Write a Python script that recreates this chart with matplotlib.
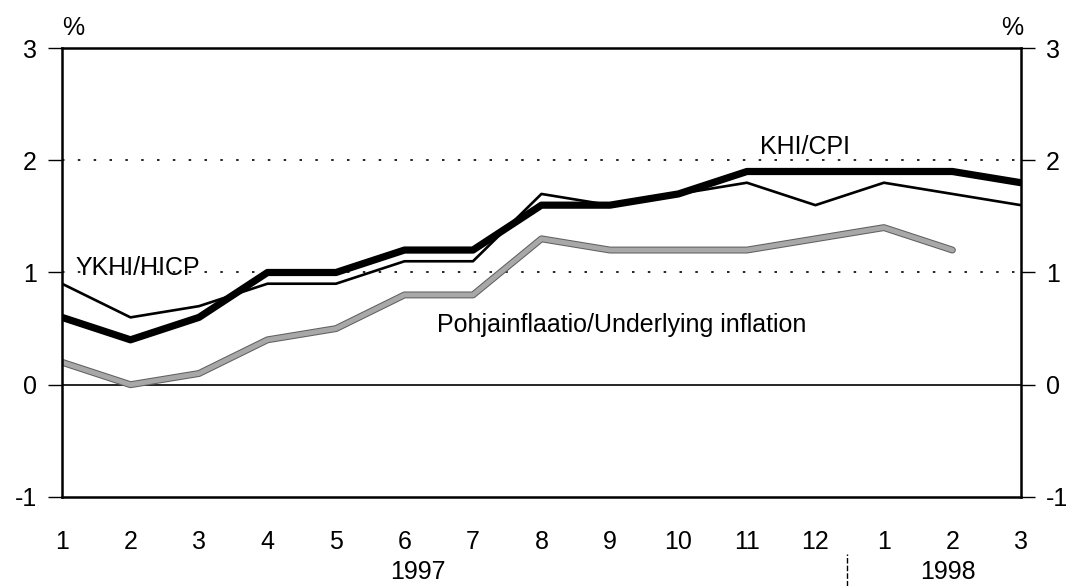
import numpy as np
import matplotlib.pyplot as plt
import matplotlib.patheffects as pe

plt.rcParams['font.family'] = ['Liberation Sans', 'DejaVu Sans']

months = ["1", "2", "3", "4", "5", "6", "7", "8", "9", "10", "11", "12", "1", "2", "3"]
cpi = [0.6, 0.4, 0.6, 1.0, 1.0, 1.2, 1.2, 1.6, 1.6, 1.7, 1.9, 1.9, 1.9, 1.9, 1.8]
hicp = [0.9, 0.6, 0.7, 0.9, 0.9, 1.1, 1.1, 1.7, 1.6, 1.7, 1.8, 1.6, 1.8, 1.7, 1.6]
underlying = [0.2, 0.0, 0.1, 0.4, 0.5, 0.8, 0.8, 1.3, 1.2, 1.2, 1.2, 1.3, 1.4, 1.2]

fs = 18
x = np.arange(len(months))
fig = plt.figure(figsize=(10.69, 5.86), dpi=100)
ax = fig.add_axes([0.058, 0.152, 0.897, 0.766])

# grid lines
for g in [1, 2]:
    ax.axhline(g, color='black', lw=1.2, ls=(0, (1.5, 8)), zorder=1)
ax.axhline(0, color='black', lw=1.2, zorder=1)

ax.plot(np.arange(len(underlying)), underlying, color='#a8a8a8', lw=3.5, zorder=2,
        solid_capstyle='round',
        path_effects=[pe.Stroke(linewidth=5, foreground='#606060'), pe.Normal()])
ax.plot(x, hicp, color='black', lw=1.9, zorder=3)
ax.plot(x, cpi, color='black', lw=5.2, zorder=4, solid_capstyle='round')

ax.set_xlim(0, len(months) - 1)
ax.set_ylim(-1, 3)
ax.set_yticks([-1, 0, 1, 2, 3])
ax.set_yticklabels(["-1", "0", "1", "2", "3"])
ax.set_xticks(x)
ax.set_xticklabels(months)
ax.tick_params(axis='x', length=0, pad=24, labelsize=fs)
ax.tick_params(axis='y', direction='out', length=10, width=1, labelsize=fs,
               left=True, right=True, labelleft=True, labelright=True, pad=8)
for s in ax.spines.values():
    s.set_linewidth(1.8)

# labels on lines
ax.text(10.85, 2.115, "KHI/CPI", fontsize=fs, ha='center', va='center')
ax.text(0.19, 1.04, "YKHI/HICP", fontsize=fs, ha='left', va='center')
ax.text(8.17, 0.53, "Pohjainflaatio/Underlying inflation", fontsize=fs, ha='center', va='center')

# % signs
fig.text(0.068, 0.952, "%", fontsize=fs, ha='center', va='center')
fig.text(0.947, 0.952, "%", fontsize=fs, ha='center', va='center')

# year labels and separator
fig.text(0.391, 0.004, "1997", fontsize=fs, ha='center', va='bottom')
fig.text(0.887, 0.004, "1998", fontsize=fs, ha='center', va='bottom')
fig.add_artist(plt.Line2D([0.792, 0.792], [0.0, 0.055], color='black', lw=1,
                          ls=(0, (4, 1.5)), transform=fig.transFigure))

fig.savefig("out.png", dpi=100)
